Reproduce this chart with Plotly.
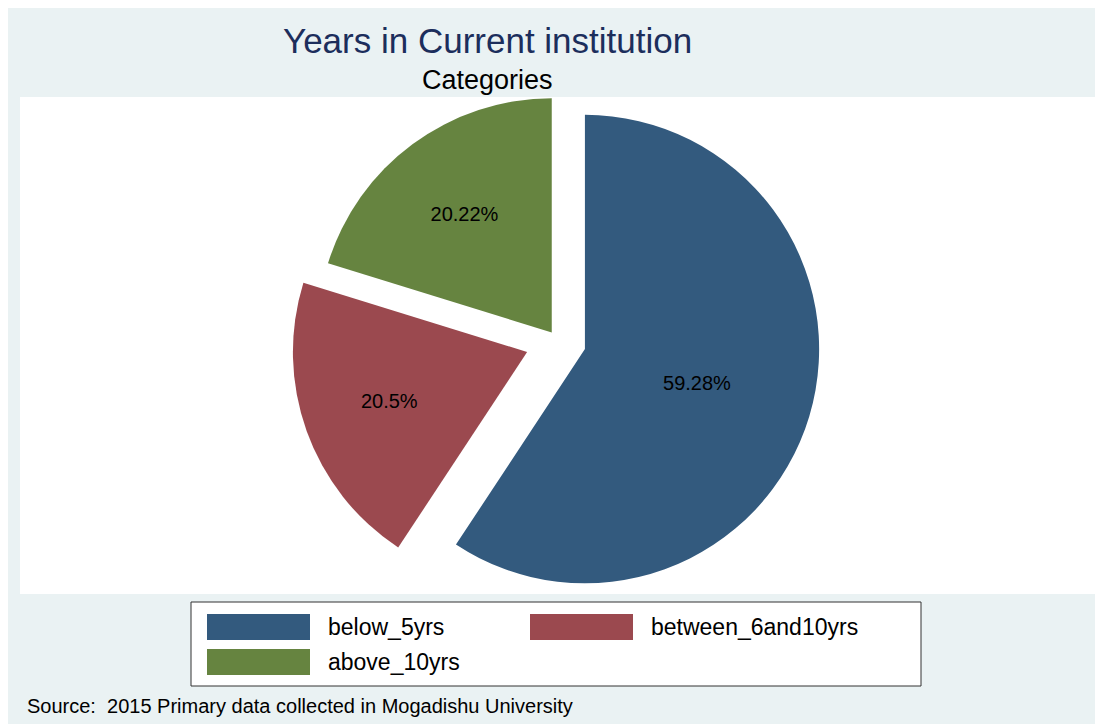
import plotly.graph_objects as go

# ---- data ----
categories = ["below_5yrs", "between_6and10yrs", "above_10yrs"]
values = [59.28, 20.5, 20.22]
colors = ["#335A7E", "#9B494F", "#668440"]
pulls = [0.12, 0.14, 0.045]

title_text = "Years in Current institution"
subtitle_text = "Categories"
source_text = "Source:  2015 Primary data collected in Mogadishu University"

# page is 1103x724; the html body has an 8px margin, so the figure starts at (8, 8)
OFF = 8
W, H = 1103 - OFF, 724 - OFF
FONT = "Liberation Sans, Arial, sans-serif"


def px(x):
    return (x - OFF) / W


def py(y):
    return 1 - (y - OFF) / H


# pie geometry (page pixels): center and box size
cx, cy, box = 558, 341, 534

fig = go.Figure()
fig.add_trace(go.Pie(
    labels=categories,
    values=values,
    sort=False,
    direction="clockwise",
    rotation=0,
    pull=pulls,
    marker=dict(colors=colors, line=dict(width=0)),
    texttemplate="%{value}%",
    textposition="inside",
    insidetextorientation="horizontal",
    textfont=dict(family=FONT, size=20, color="black"),
    domain=dict(x=[px(cx - box / 2), px(cx + box / 2)],
                y=[py(cy + box / 2), py(cy - box / 2)]),
    showlegend=False,
    hoverinfo="label+percent",
))

shapes = [
    # plot region
    dict(type="rect", xref="paper", yref="paper", x0=px(20), x1=px(1096), y0=py(594), y1=py(97),
         fillcolor="white", line=dict(width=0), layer="below"),
    # legend box
    dict(type="rect", xref="paper", yref="paper", x0=px(191), x1=px(921), y0=py(686), y1=py(602),
         fillcolor="white", line=dict(color="#333333", width=1), layer="below"),
]

annotations = [
    dict(text=title_text, x=px(487), y=py(41), xref="paper", yref="paper", showarrow=False,
         xanchor="center", yanchor="middle", font=dict(family=FONT, size=35, color="#1C2E5C")),
    dict(text=subtitle_text, x=px(487), y=py(80), xref="paper", yref="paper", showarrow=False,
         xanchor="center", yanchor="middle", font=dict(family=FONT, size=27, color="black")),
    dict(text=source_text, x=px(25), y=py(706), xref="paper", yref="paper", showarrow=False,
         xanchor="left", yanchor="middle", font=dict(family=FONT, size=20, color="black")),
]

# legend entries (swatch + label), laid out in two columns
leg_pos = [(207, 614), (530, 614), (207, 649)]
for (lx, ly), lab, col in zip(leg_pos, categories, colors):
    shapes.append(dict(type="rect", xref="paper", yref="paper",
                       x0=px(lx), x1=px(lx + 103), y0=py(ly + 26), y1=py(ly),
                       fillcolor=col, line=dict(width=0)))
    annotations.append(dict(text=lab, x=px(lx + 119), y=py(ly + 13), xref="paper", yref="paper",
                            showarrow=False, xanchor="left", yanchor="middle",
                            font=dict(family=FONT, size=23, color="black")))

fig.update_layout(
    width=W, height=H,
    margin=dict(l=0, r=0, t=0, b=0),
    paper_bgcolor="#EAF2F3",
    plot_bgcolor="#EAF2F3",
    shapes=shapes,
    annotations=annotations,
    font=dict(family=FONT),
)

fig.write_html("out.html")
